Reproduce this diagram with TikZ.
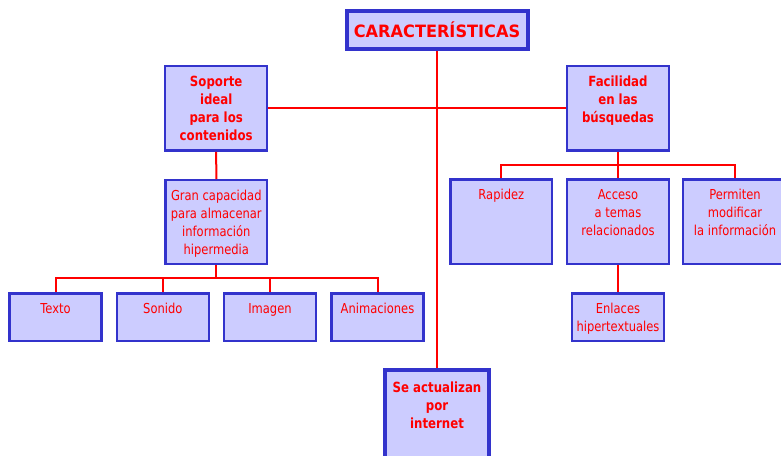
\documentclass[tikz,border=0pt]{standalone}
\usepackage{fontspec}
\setmainfont{DejaVu Sans}[FakeStretch=0.84]
\newfontfamily\titlefont{DejaVu Sans}[FakeStretch=0.95]
\usepackage{tikz}
\definecolor{boxblue}{RGB}{51,51,204}
\definecolor{boxfill}{RGB}{204,204,255}
\definecolor{linkred}{RGB}{255,0,0}
\newcommand{\celltxt}[4]{\parbox[t][#2][t]{#1}{\centering\rule{0pt}{#3}#4}}

\begin{document}
\begin{tikzpicture}[x=1pt,y=-1pt,
  cell/.style={rectangle,draw=boxblue,fill=boxfill,line width=2.4pt,inner sep=0pt,
    text=linkred,font=\fontsize{13.7}{18}\selectfont},
  headcell/.style={cell,font=\fontsize{14}{18.3}\selectfont\bfseries},
  link/.style={draw=linkred,line width=2pt}]

  \useasboundingbox (0,0) rectangle (781,455);
  \clip (0,0) rectangle (781,455);

  % nivel superior
  \node[cell,line width=4pt,minimum width=181pt,minimum height=38pt,
    font=\titlefont\fontsize{17}{20}\selectfont\bfseries] (titulo) at (437,29.8) {CARACTERÍSTICAS};
  \node[headcell] (soporte) at (216.2,108.4)
    {\celltxt{101.9pt}{84.3pt}{19.8pt}{Soporte\\ideal\\para los\\contenidos}};
  \node[headcell] (facilidad) at (618,108.4)
    {\celltxt{101.6pt}{84.3pt}{19.8pt}{Facilidad\\en las\\búsquedas}};
  \node[headcell,line width=4pt] (actualiza) at (437,425.3)
    {\celltxt{104pt}{110pt}{21.7pt}{Se actualizan\\por\\internet}};

  % rama izquierda
  \node[cell] (gran) at (216.3,222)
    {\celltxt{101.6pt}{83.6pt}{19.8pt}{Gran capacidad\\para almacenar\\información\\hipermedia}};
  \node[cell] (texto) at (55.5,317.3) {\celltxt{92pt}{47.6pt}{19.8pt}{Texto}};
  \node[cell] (sonido) at (162.8,317.3) {\celltxt{92pt}{47.6pt}{19.8pt}{Sonido}};
  \node[cell] (imagen) at (270,317.3) {\celltxt{92pt}{47.6pt}{19.8pt}{Imagen}};
  \node[cell] (animaciones) at (377.5,317.3) {\celltxt{92pt}{47.6pt}{19.8pt}{Animaciones}};

  % rama derecha
  \node[cell] (rapidez) at (501.3,221.7) {\celltxt{101.6pt}{84.3pt}{19.8pt}{Rapidez}};
  \node[cell] (acceso) at (618,221.7)
    {\celltxt{101.6pt}{84.3pt}{19.8pt}{Acceso\\a temas\\relacionados}};
  \node[cell] (permiten) at (735,221.7)
    {\celltxt{104pt}{84.3pt}{19.8pt}{Permiten\\modificar\\la información}};
  \node[cell] (enlaces) at (618,317.3)
    {\celltxt{92pt}{47.6pt}{19.8pt}{Enlaces\\hipertextuales}};

  \coordinate (busizq) at (0,278.3);
  \coordinate (busder) at (0,165);

  \draw[link] (titulo.south) -- (actualiza.north);
  \draw[link] (soporte.east) -- (facilidad.west);
  \draw[link] (soporte.south) -- (gran.north);
  \foreach \n in {texto,sonido,imagen,animaciones}
    \draw[link] (gran.south) |- (busizq -| \n) -- (\n.north);
  \foreach \n in {rapidez,acceso,permiten}
    \draw[link] (facilidad.south) |- (busder -| \n) -- (\n.north);
  \draw[link] (acceso.south) -- (enlaces.north);

\end{tikzpicture}
\end{document}
